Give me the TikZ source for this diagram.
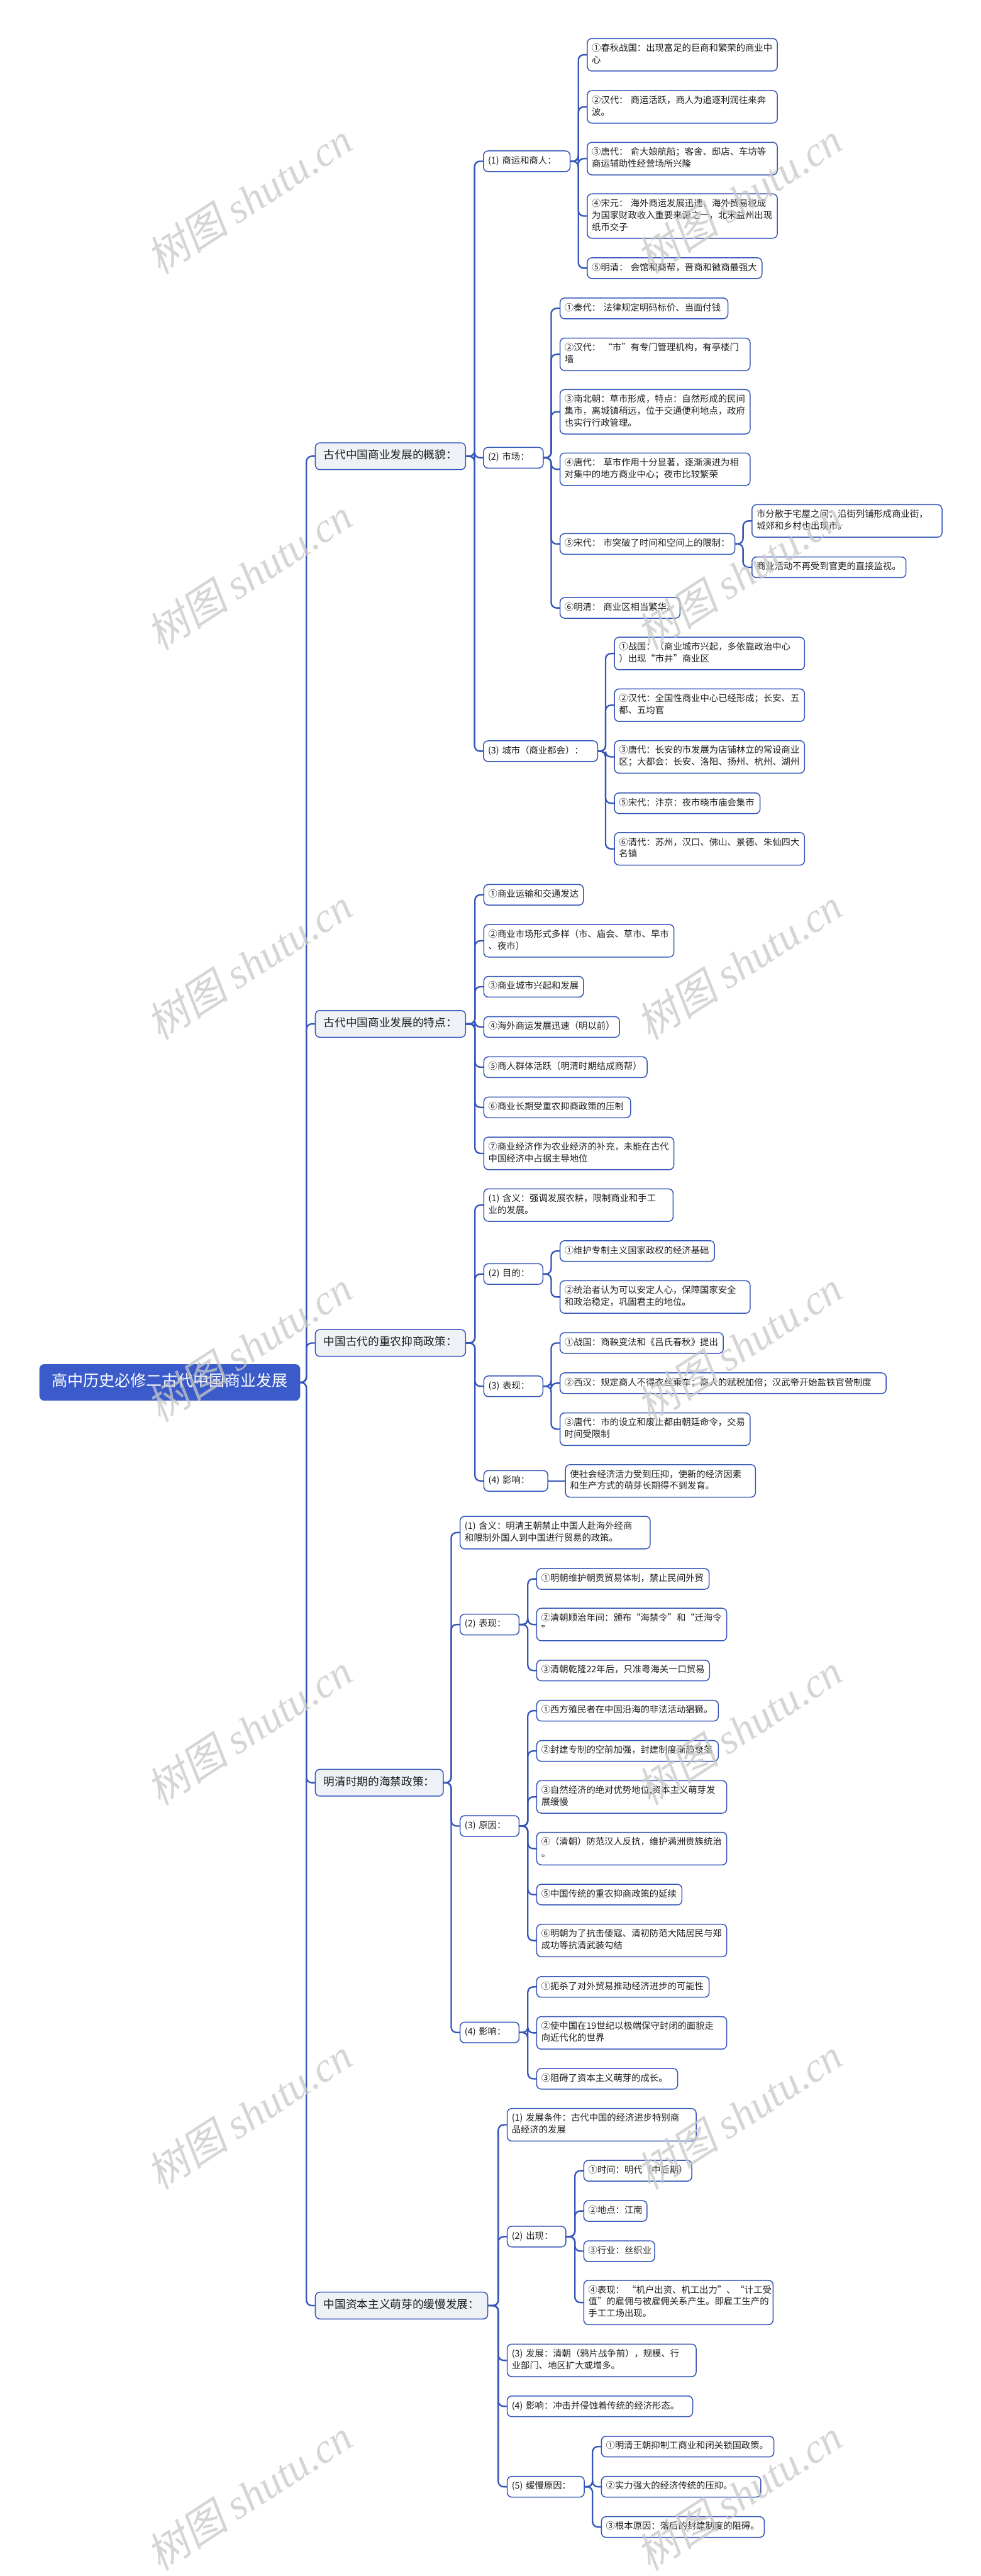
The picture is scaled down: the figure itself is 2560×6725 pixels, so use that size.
\documentclass[tikz,border=0pt]{standalone}
\usepackage{fontspec}
\setmainfont{Noto Sans CJK SC}
\newfontfamily\wmcjk[FakeSlant=0.2]{Noto Sans CJK SC}
\newfontfamily\wmlatin{Liberation Serif}
\usetikzlibrary{arrows.meta,positioning}
\definecolor{lineblue}{HTML}{3556B8}
\definecolor{rootfill}{HTML}{3A5BC9}
\definecolor{topicfill}{HTML}{EEF2F7}
\definecolor{wmgray}{HTML}{C8C8C8}
\definecolor{inktext}{HTML}{1E1E1E}
\newcommand{\gap}{\kern2pt}
\newcommand{\wmtext}{{\wmcjk 树图} {\wmlatin\itshape shutu.cn}}
\begin{document}
\begin{tikzpicture}[x=0.01cm,y=-0.01cm]
\tikzset{
  rootnode/.style={rectangle,rounded corners=0.12cm,fill=rootfill,draw=rootfill,text=white,font=\fontsize{11.7pt}{14.5pt}\selectfont,inner xsep=0.31cm,inner ysep=0.215cm,anchor=west,execute at begin node=\strut,execute at end node=\strut},
  topicnode/.style={rectangle,rounded corners=0.12cm,fill=topicfill,draw=lineblue,line width=0.7pt,text=inktext,font=\fontsize{8.25pt}{10.5pt}\selectfont,inner xsep=0.22cm,inner ysep=0.165cm,anchor=west,execute at begin node=\strut,execute at end node=\strut},
  itemnode/.style={rectangle,rounded corners=0.12cm,fill=white,draw=lineblue,line width=0.7pt,text=inktext,font=\fontsize{6.7pt}{8.8pt}\selectfont,inner xsep=0.12cm,inner ysep=0.115cm,align=left,anchor=west,execute at begin node=\strut,execute at end node=\strut},
  branch/.style={draw=lineblue,line width=1.1pt,rounded corners=0.14cm,line cap=round},
  wmark/.style={text=wmgray,opacity=0.75,rotate=33,font=\fontsize{31pt}{36pt}\selectfont}
}
\fill[white] (0,0) rectangle (2560,6725);
\useasboundingbox (0,0) rectangle (2560,6725);
\node[rootnode] (n_R) at (103,3609) {高中历史必修二古代中国商业发展};
\node[topicnode] (n_S1) at (822,1191) {古代中国商业发展的概貌：};
\node[itemnode,text width=2.02cm] (n_S1a) at (1261,421) {(1) 商运和商人：};
\node[itemnode,text width=4.72cm] (n_S1a1) at (1532,143) {①春秋战国：出现富足的巨商和繁荣的商业中\\心};
\node[itemnode,text width=4.72cm] (n_S1a2) at (1532,279) {②汉代：\gap 商运活跃，商人为追逐利润往来奔\\波。};
\node[itemnode,text width=4.72cm] (n_S1a3) at (1532,414) {③唐代：\gap 俞大娘航船；客舍、邸店、车坊等\\商运辅助性经营场所兴隆};
\node[itemnode,text width=4.72cm] (n_S1a4) at (1532,564) {④宋元：\gap 海外商运发展迅速，海外贸易税成\\为国家财政收入重要来源之一，北宋益州出现\\纸币交子};
\node[itemnode,text width=4.32cm] (n_S1a5) at (1532,700) {⑤明清：\gap 会馆和商帮，晋商和徽商最强大};
\node[itemnode,text width=1.32cm] (n_S1b) at (1261,1195) {(2) 市场：};
\node[itemnode,text width=4.14cm] (n_S1b1) at (1461,805) {①秦代：\gap 法律规定明码标价、当面付钱};
\node[itemnode,text width=4.72cm] (n_S1b2) at (1461,925) {②汉代：\gap “市”有专门管理机构，有亭楼门\\墙};
\node[itemnode,text width=4.72cm] (n_S1b3) at (1461,1075) {③南北朝：草市形成，特点：自然形成的民间\\集市，离城镇稍远，位于交通便利地点，政府\\也实行行政管理。};
\node[itemnode,text width=4.72cm] (n_S1b4) at (1461,1225) {④唐代：\gap 草市作用十分显著，逐渐演进为相\\对集中的地方商业中心；夜市比较繁荣};
\node[itemnode,text width=4.32cm] (n_S1b5) at (1461,1420) {⑤宋代：\gap 市突破了时间和空间上的限制：};
\node[itemnode,text width=4.72cm] (n_S1b5a) at (1962,1360) {市分散于宅屋之间；沿街列铺形成商业街，\\城郊和乡村也出现市。};
\node[itemnode,text width=3.78cm] (n_S1b5b) at (1962,1481) {商业活动不再受到官吏的直接监视。};
\node[itemnode,text width=2.89cm] (n_S1b6) at (1461,1587) {⑥明清：\gap 商业区相当繁华。};
\node[itemnode,text width=2.74cm] (n_S1c) at (1261,1961) {(3) 城市（商业都会）：};
\node[itemnode,text width=4.72cm] (n_S1c1) at (1603,1706) {①战国：（商业城市兴起，多依靠政治中心\\）出现“市井”商业区};
\node[itemnode,text width=4.72cm] (n_S1c2) at (1603,1841) {②汉代：全国性商业中心已经形成；长安、五\\都、五均官};
\node[itemnode,text width=4.72cm] (n_S1c3) at (1603,1976) {③唐代：长安的市发展为店铺林立的常设商业\\区；大都会：长安、洛阳、扬州、杭州、湖州};
\node[itemnode,text width=3.56cm] (n_S1c5) at (1603,2097) {⑤宋代：汴京：夜市晓市庙会集市};
\node[itemnode,text width=4.72cm] (n_S1c6) at (1603,2216) {⑥清代：苏州，汉口、佛山、景德、朱仙四大\\名镇};
\node[topicnode] (n_S2) at (822,2673) {古代中国商业发展的特点：};
\node[itemnode,text width=2.36cm] (n_S2a) at (1262,2336) {①商业运输和交通发达};
\node[itemnode,text width=4.72cm] (n_S2b) at (1262,2456) {②商业市场形式多样（市、庙会、草市、早市\\、夜市）};
\node[itemnode,text width=2.36cm] (n_S2c) at (1262,2576) {③商业城市兴起和发展};
\node[itemnode,text width=3.30cm] (n_S2d) at (1262,2681) {④海外商运发展迅速（明以前）};
\node[itemnode,text width=4.02cm] (n_S2e) at (1262,2786) {⑤商人群体活跃（明清时期结成商帮）};
\node[itemnode,text width=3.59cm] (n_S2f) at (1262,2891) {⑥商业长期受重农抑商政策的压制};
\node[itemnode,text width=4.72cm] (n_S2g) at (1262,3011) {⑦商业经济作为农业经济的补充，未能在古代\\中国经济中占据主导地位};
\node[topicnode] (n_S3) at (822,3506) {中国古代的重农抑商政策：};
\node[itemnode,text width=4.70cm] (n_S3a) at (1262,3146) {(1) 含义：强调发展农耕，限制商业和手工\\业的发展。};
\node[itemnode,text width=1.30cm] (n_S3b) at (1262,3326) {(2) 目的：};
\node[itemnode,text width=3.79cm] (n_S3b1) at (1461,3266) {①维护专制主义国家政权的经济基础};
\node[itemnode,text width=4.72cm] (n_S3b2) at (1461,3386) {②统治者认为可以安定人心，保障国家安全\\和政治稳定，巩固君主的地位。};
\node[itemnode,text width=1.30cm] (n_S3c) at (1262,3619) {(3) 表现：};
\node[itemnode,text width=4.02cm] (n_S3c1) at (1461,3506) {①战国：商鞅变法和《吕氏春秋》提出};
\node[itemnode,text width=8.27cm] (n_S3c2) at (1461,3611) {②西汉：规定商人不得衣丝乘车；商人的赋税加倍；汉武帝开始盐铁官营制度};
\node[itemnode,text width=4.72cm] (n_S3c3) at (1461,3731) {③唐代：市的设立和废止都由朝廷命令，交易\\时间受限制};
\node[itemnode,text width=1.43cm] (n_S3d) at (1262,3866) {(4) 影响：};
\node[itemnode,text width=4.72cm] (n_S3d1) at (1475,3866) {使社会经济活力受到压抑，使新的经济因素\\和生产方式的萌芽长期得不到发育。};
\node[topicnode] (n_S4) at (822,4654) {明清时期的海禁政策：};
\node[itemnode,text width=4.72cm] (n_S4a) at (1200,4001) {(1) 含义：明清王朝禁止中国人赴海外经商\\和限制外国人到中国进行贸易的政策。};
\node[itemnode,text width=1.30cm] (n_S4b) at (1200,4241) {(2) 表现：};
\node[itemnode,text width=4.26cm] (n_S4b1) at (1400,4122) {①明朝维护朝贡贸易体制，禁止民间外贸};
\node[itemnode,text width=4.72cm] (n_S4b2) at (1400,4241) {②清朝顺治年间：颁布“海禁令”和“迁海令\\”};
\node[itemnode,text width=4.27cm] (n_S4b3) at (1400,4361) {③清朝乾隆22年后，只准粤海关一口贸易};
\node[itemnode,text width=1.30cm] (n_S4c) at (1200,4767) {(3) 原因：};
\node[itemnode,text width=4.50cm] (n_S4c1) at (1400,4466) {①西方殖民者在中国沿海的非法活动猖獗。};
\node[itemnode,text width=4.50cm] (n_S4c2) at (1400,4571) {②封建专制的空前加强，封建制度渐趋衰落};
\node[itemnode,text width=4.72cm] (n_S4c3) at (1400,4691) {③自然经济的绝对优势地位,资本主义萌芽发\\展缓慢};
\node[itemnode,text width=4.72cm] (n_S4c4) at (1400,4826) {④（清朝）防范汉人反抗，维护满洲贵族统治\\。};
\node[itemnode,text width=3.55cm] (n_S4c5) at (1400,4946) {⑤中国传统的重农抑商政策的延续};
\node[itemnode,text width=4.72cm] (n_S4c6) at (1400,5066) {⑥明朝为了抗击倭寇、清初防范大陆居民与郑\\成功等抗清武装勾结};
\node[itemnode,text width=1.30cm] (n_S4d) at (1200,5306) {(4) 影响：};
\node[itemnode,text width=4.26cm] (n_S4d1) at (1400,5187) {①扼杀了对外贸易推动经济进步的可能性};
\node[itemnode,text width=4.72cm] (n_S4d2) at (1400,5307) {②使中国在19世纪以极端保守封闭的面貌走\\向近代化的世界};
\node[itemnode,text width=3.44cm] (n_S4d3) at (1400,5427) {③阻碍了资本主义萌芽的成长。};
\node[topicnode] (n_S5) at (822,6019) {中国资本主义萌芽的缓慢发展：};
\node[itemnode,text width=4.69cm] (n_S5a) at (1323,5547) {(1) 发展条件：古代中国的经济进步特别商\\品经济的发展};
\node[itemnode,text width=1.29cm] (n_S5b) at (1323,5839) {(2) 出现：};
\node[itemnode,text width=2.58cm] (n_S5b1) at (1523,5667) {①时间：明代（中后期）};
\node[itemnode,text width=1.41cm] (n_S5b2) at (1523,5772) {②地点：江南};
\node[itemnode,text width=1.61cm] (n_S5b3) at (1523,5877) {③行业：丝织业};
\node[itemnode,text width=4.70cm] (n_S5b4) at (1523,6011) {④表现：\gap “机户出资、机工出力”、“计工受\\值”的雇佣与被雇佣关系产生。即雇工生产的\\手工工场出现。};
\node[itemnode,text width=4.69cm] (n_S5c) at (1323,6162) {(3) 发展：清朝（鸦片战争前），规模、行\\业部门、地区扩大或增多。};
\node[itemnode,text width=4.60cm] (n_S5d) at (1323,6282) {(4) 影响：冲击并侵蚀着传统的经济形态。};
\node[itemnode,text width=1.77cm] (n_S5e) at (1323,6492) {(5) 缓慢原因：};
\node[itemnode,text width=4.26cm] (n_S5e1) at (1569,6387) {①明清王朝抑制工商业和闭关锁国政策。};
\node[itemnode,text width=3.92cm] (n_S5e2) at (1569,6492) {②实力强大的经济传统的压抑。};
\node[itemnode,text width=4.01cm] (n_S5e3) at (1569,6597) {③根本原因：落后的封建制度的阻碍。};
\draw[branch] (n_R.east) -| ([xshift=-0.22cm]n_S1.west) -- (n_S1.west);
\draw[branch] (n_R.east) -| ([xshift=-0.22cm]n_S2.west) -- (n_S2.west);
\draw[branch] (n_R.east) -| ([xshift=-0.22cm]n_S3.west) -- (n_S3.west);
\draw[branch] (n_R.east) -| ([xshift=-0.22cm]n_S4.west) -- (n_S4.west);
\draw[branch] (n_R.east) -| ([xshift=-0.22cm]n_S5.west) -- (n_S5.west);
\draw[branch] (n_S1.east) -| ([xshift=-0.22cm]n_S1a.west) -- (n_S1a.west);
\draw[branch] (n_S1.east) -| ([xshift=-0.22cm]n_S1b.west) -- (n_S1b.west);
\draw[branch] (n_S1.east) -| ([xshift=-0.22cm]n_S1c.west) -- (n_S1c.west);
\draw[branch] (n_S1a.east) -| ([xshift=-0.22cm]n_S1a1.west) -- (n_S1a1.west);
\draw[branch] (n_S1a.east) -| ([xshift=-0.22cm]n_S1a2.west) -- (n_S1a2.west);
\draw[branch] (n_S1a.east) -| ([xshift=-0.22cm]n_S1a3.west) -- (n_S1a3.west);
\draw[branch] (n_S1a.east) -| ([xshift=-0.22cm]n_S1a4.west) -- (n_S1a4.west);
\draw[branch] (n_S1a.east) -| ([xshift=-0.22cm]n_S1a5.west) -- (n_S1a5.west);
\draw[branch] (n_S1b.east) -| ([xshift=-0.22cm]n_S1b1.west) -- (n_S1b1.west);
\draw[branch] (n_S1b.east) -| ([xshift=-0.22cm]n_S1b2.west) -- (n_S1b2.west);
\draw[branch] (n_S1b.east) -| ([xshift=-0.22cm]n_S1b3.west) -- (n_S1b3.west);
\draw[branch] (n_S1b.east) -| ([xshift=-0.22cm]n_S1b4.west) -- (n_S1b4.west);
\draw[branch] (n_S1b.east) -| ([xshift=-0.22cm]n_S1b5.west) -- (n_S1b5.west);
\draw[branch] (n_S1b.east) -| ([xshift=-0.22cm]n_S1b6.west) -- (n_S1b6.west);
\draw[branch] (n_S1b5.east) -| ([xshift=-0.22cm]n_S1b5a.west) -- (n_S1b5a.west);
\draw[branch] (n_S1b5.east) -| ([xshift=-0.22cm]n_S1b5b.west) -- (n_S1b5b.west);
\draw[branch] (n_S1c.east) -| ([xshift=-0.22cm]n_S1c1.west) -- (n_S1c1.west);
\draw[branch] (n_S1c.east) -| ([xshift=-0.22cm]n_S1c2.west) -- (n_S1c2.west);
\draw[branch] (n_S1c.east) -| ([xshift=-0.22cm]n_S1c3.west) -- (n_S1c3.west);
\draw[branch] (n_S1c.east) -| ([xshift=-0.22cm]n_S1c5.west) -- (n_S1c5.west);
\draw[branch] (n_S1c.east) -| ([xshift=-0.22cm]n_S1c6.west) -- (n_S1c6.west);
\draw[branch] (n_S2.east) -| ([xshift=-0.22cm]n_S2a.west) -- (n_S2a.west);
\draw[branch] (n_S2.east) -| ([xshift=-0.22cm]n_S2b.west) -- (n_S2b.west);
\draw[branch] (n_S2.east) -| ([xshift=-0.22cm]n_S2c.west) -- (n_S2c.west);
\draw[branch] (n_S2.east) -| ([xshift=-0.22cm]n_S2d.west) -- (n_S2d.west);
\draw[branch] (n_S2.east) -| ([xshift=-0.22cm]n_S2e.west) -- (n_S2e.west);
\draw[branch] (n_S2.east) -| ([xshift=-0.22cm]n_S2f.west) -- (n_S2f.west);
\draw[branch] (n_S2.east) -| ([xshift=-0.22cm]n_S2g.west) -- (n_S2g.west);
\draw[branch] (n_S3.east) -| ([xshift=-0.22cm]n_S3a.west) -- (n_S3a.west);
\draw[branch] (n_S3.east) -| ([xshift=-0.22cm]n_S3b.west) -- (n_S3b.west);
\draw[branch] (n_S3.east) -| ([xshift=-0.22cm]n_S3c.west) -- (n_S3c.west);
\draw[branch] (n_S3.east) -| ([xshift=-0.22cm]n_S3d.west) -- (n_S3d.west);
\draw[branch] (n_S3b.east) -| ([xshift=-0.22cm]n_S3b1.west) -- (n_S3b1.west);
\draw[branch] (n_S3b.east) -| ([xshift=-0.22cm]n_S3b2.west) -- (n_S3b2.west);
\draw[branch] (n_S3c.east) -| ([xshift=-0.22cm]n_S3c1.west) -- (n_S3c1.west);
\draw[branch] (n_S3c.east) -| ([xshift=-0.22cm]n_S3c2.west) -- (n_S3c2.west);
\draw[branch] (n_S3c.east) -| ([xshift=-0.22cm]n_S3c3.west) -- (n_S3c3.west);
\draw[branch] (n_S3d.east) -- (n_S3d1.west);
\draw[branch] (n_S4.east) -| ([xshift=-0.22cm]n_S4a.west) -- (n_S4a.west);
\draw[branch] (n_S4.east) -| ([xshift=-0.22cm]n_S4b.west) -- (n_S4b.west);
\draw[branch] (n_S4.east) -| ([xshift=-0.22cm]n_S4c.west) -- (n_S4c.west);
\draw[branch] (n_S4.east) -| ([xshift=-0.22cm]n_S4d.west) -- (n_S4d.west);
\draw[branch] (n_S4b.east) -| ([xshift=-0.22cm]n_S4b1.west) -- (n_S4b1.west);
\draw[branch] (n_S4b.east) -| ([xshift=-0.22cm]n_S4b2.west) -- (n_S4b2.west);
\draw[branch] (n_S4b.east) -| ([xshift=-0.22cm]n_S4b3.west) -- (n_S4b3.west);
\draw[branch] (n_S4c.east) -| ([xshift=-0.22cm]n_S4c1.west) -- (n_S4c1.west);
\draw[branch] (n_S4c.east) -| ([xshift=-0.22cm]n_S4c2.west) -- (n_S4c2.west);
\draw[branch] (n_S4c.east) -| ([xshift=-0.22cm]n_S4c3.west) -- (n_S4c3.west);
\draw[branch] (n_S4c.east) -| ([xshift=-0.22cm]n_S4c4.west) -- (n_S4c4.west);
\draw[branch] (n_S4c.east) -| ([xshift=-0.22cm]n_S4c5.west) -- (n_S4c5.west);
\draw[branch] (n_S4c.east) -| ([xshift=-0.22cm]n_S4c6.west) -- (n_S4c6.west);
\draw[branch] (n_S4d.east) -| ([xshift=-0.22cm]n_S4d1.west) -- (n_S4d1.west);
\draw[branch] (n_S4d.east) -| ([xshift=-0.22cm]n_S4d2.west) -- (n_S4d2.west);
\draw[branch] (n_S4d.east) -| ([xshift=-0.22cm]n_S4d3.west) -- (n_S4d3.west);
\draw[branch] (n_S5.east) -| ([xshift=-0.22cm]n_S5a.west) -- (n_S5a.west);
\draw[branch] (n_S5.east) -| ([xshift=-0.22cm]n_S5b.west) -- (n_S5b.west);
\draw[branch] (n_S5.east) -| ([xshift=-0.22cm]n_S5c.west) -- (n_S5c.west);
\draw[branch] (n_S5.east) -| ([xshift=-0.22cm]n_S5d.west) -- (n_S5d.west);
\draw[branch] (n_S5.east) -| ([xshift=-0.22cm]n_S5e.west) -- (n_S5e.west);
\draw[branch] (n_S5b.east) -| ([xshift=-0.22cm]n_S5b1.west) -- (n_S5b1.west);
\draw[branch] (n_S5b.east) -| ([xshift=-0.22cm]n_S5b2.west) -- (n_S5b2.west);
\draw[branch] (n_S5b.east) -| ([xshift=-0.22cm]n_S5b3.west) -- (n_S5b3.west);
\draw[branch] (n_S5b.east) -| ([xshift=-0.22cm]n_S5b4.west) -- (n_S5b4.west);
\draw[branch] (n_S5e.east) -| ([xshift=-0.22cm]n_S5e1.west) -- (n_S5e1.west);
\draw[branch] (n_S5e.east) -| ([xshift=-0.22cm]n_S5e2.west) -- (n_S5e2.west);
\draw[branch] (n_S5e.east) -| ([xshift=-0.22cm]n_S5e3.west) -- (n_S5e3.west);
\node[wmark] (n_W1) at (650,518) {\wmtext};
\node[wmark] (n_W2) at (1930,518) {\wmtext};
\node[wmark] (n_W3) at (650,1500) {\wmtext};
\node[wmark] (n_W4) at (1930,1500) {\wmtext};
\node[wmark] (n_W5) at (650,2517) {\wmtext};
\node[wmark] (n_W6) at (1930,2517) {\wmtext};
\node[wmark] (n_W7) at (650,3515) {\wmtext};
\node[wmark] (n_W8) at (1930,3515) {\wmtext};
\node[wmark] (n_W9) at (650,4515) {\wmtext};
\node[wmark] (n_W10) at (1930,4515) {\wmtext};
\node[wmark] (n_W11) at (650,5519) {\wmtext};
\node[wmark] (n_W12) at (1930,5519) {\wmtext};
\node[wmark] (n_W13) at (650,6513) {\wmtext};
\node[wmark] (n_W14) at (1930,6513) {\wmtext};
\end{tikzpicture}
\end{document}
